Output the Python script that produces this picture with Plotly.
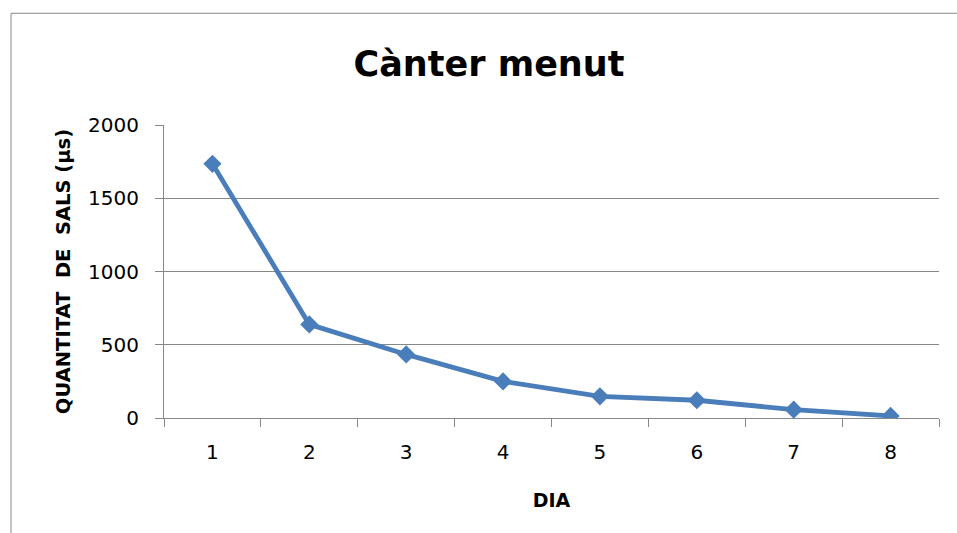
import plotly.graph_objects as go

dies = ["1", "2", "3", "4", "5", "6", "7", "8"]
sals = [1735, 639, 434, 250, 148, 121, 57, 14]

title_text = "Cànter menut"
x_title = "DIA"
y_title = "QUANTITAT\u00a0\u00a0DE\u00a0\u00a0SALS (µs)"

FONT = "DejaVu Sans"
GRAY = "#878787"
BLUE = "#4a7ebb"

fig = go.Figure()
fig.add_trace(go.Scatter(
    x=dies, y=sals, mode="lines+markers",
    line=dict(color=BLUE, width=4.8),
    marker=dict(symbol="diamond", size=14, color=BLUE),
    showlegend=False,
))

L, R, T, B = 164, 18, 124.5, 115.3
W, H = 957, 533
pw = W - L - R
ph = H - T - B

fig.update_layout(
    width=W, height=H,
    margin=dict(l=L, r=R, t=T, b=B, pad=0),
    paper_bgcolor="white", plot_bgcolor="white",
    font=dict(family=FONT, color="black", size=18),
    title=dict(text="<b>" + title_text + "</b>", x=(489 - L) / pw, xref="paper",
               xanchor="center", y=1 - 64 / H, yanchor="middle",
               font=dict(family=FONT, size=35, color="black")),
    xaxis=dict(
        type="category", range=[-0.5, 7.5], tickson="boundaries",
        ticks="outside", ticklen=8, tickcolor=GRAY, tickwidth=1,
        showline=True, linecolor=GRAY, linewidth=1,
        showgrid=False, zeroline=False,
        tickfont=dict(family=FONT, size=20, color="black"),
        ticklabelstandoff=16,
        title=dict(text="<b>" + x_title + "</b>", standoff=30,
                   font=dict(family=FONT, size=19, color="black")),
    ),
    yaxis=dict(
        range=[0, 2000], tickvals=[0, 500, 1000, 1500, 2000],
        ticks="outside", ticklen=8, tickcolor=GRAY, tickwidth=1,
        showline=True, linecolor=GRAY, linewidth=1,
        showgrid=True, gridcolor=GRAY, gridwidth=1, zeroline=False,
        tickfont=dict(family=FONT, size=20, color="black"),
        ticklabelstandoff=12,
        title=dict(text="<b>" + y_title + "</b>", standoff=12,
                   font=dict(family=FONT, size=19.5, color="black")),
    ),
)

# outer chart frame (left and top edges visible)
fig.add_shape(type="rect", xref="paper", yref="paper",
              x0=(11 - L) / pw, x1=(W + 20 - L) / pw,
              y0=-(H + 20 - (H - B)) / ph, y1=((H - B) - 12.7) / ph,
              line=dict(color=GRAY, width=1), layer="below")

fig.write_html("out.html", config={"displayModeBar": False})

with open("out.html", "r", encoding="utf-8") as f:
    html = f.read()
html = html.replace("<head>", "<head><style>html,body{margin:0;padding:0;overflow:hidden}</style>", 1)
with open("out.html", "w", encoding="utf-8") as f:
    f.write(html)
